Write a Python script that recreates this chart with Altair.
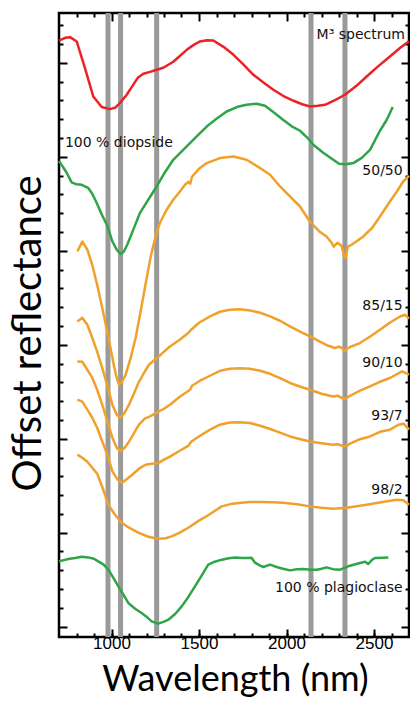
import altair as alt
import pandas as pd

# ---------------- data ----------------
m3_nm = [700,735,763,801,848,896,944,991,1020,1049,1087,1120,1150,1182,1220,1258,1296,1353,1430,1470,1506,1545,1582,1640,1697,1750,1811,1870,1925,1980,2040,2090,2134,2180,2220,2280,2334,2400,2458,2520,2591,2650,2700]
m3_refl = [6.237,6.266,6.273,6.227,5.947,5.641,5.529,5.507,5.521,5.574,5.660,5.755,5.840,5.883,5.904,5.926,5.947,6.011,6.138,6.191,6.227,6.239,6.237,6.170,6.085,5.989,5.872,5.787,5.713,5.649,5.596,5.559,5.535,5.543,5.553,5.606,5.660,5.755,5.854,5.957,6.067,6.160,6.229]

diop_nm = [700,744,772,800,830,866,890,915,945,976,1005,1030,1052,1070,1090,1128,1163,1210,1258,1300,1353,1430,1490,1544,1600,1658,1720,1772,1830,1877,1930,1980,2030,2077,2120,2153,2210,2267,2300,2340,2382,2430,2477,2534,2573,2607]
diop_refl = [4.957,4.830,4.727,4.707,4.702,4.670,4.606,4.511,4.383,4.266,4.099,4.011,3.965,3.989,4.064,4.241,4.404,4.543,4.684,4.819,4.968,5.110,5.223,5.322,5.404,5.482,5.532,5.553,5.564,5.543,5.468,5.394,5.324,5.277,5.202,5.128,5.043,4.968,4.926,4.920,4.933,4.989,5.074,5.277,5.394,5.529]

mix50_nm = [805,833,862,890,918,947,976,1005,1025,1043,1060,1081,1110,1138,1165,1195,1225,1253,1277,1315,1353,1390,1420,1440,1450,1460,1500,1544,1620,1696,1772,1849,1906,1963,2020,2077,2134,2190,2229,2258,2270,2290,2315,2330,2338,2350,2372,2439,2490,2534,2591,2630,2667,2700]
mix50_refl = [3.993,4.099,4.011,3.851,3.638,3.394,3.138,2.862,2.681,2.574,2.606,2.681,2.862,3.074,3.340,3.649,3.947,4.160,4.298,4.436,4.543,4.628,4.702,4.734,4.713,4.787,4.872,4.933,4.986,5.003,4.968,4.880,4.809,4.684,4.578,4.471,4.309,4.202,4.152,4.085,4.043,4.085,4.053,3.936,3.926,4.043,4.064,4.152,4.245,4.365,4.524,4.628,4.737,4.798]

mix85_nm = [805,833,862,890,918,947,976,1005,1030,1052,1075,1100,1130,1157,1190,1214,1240,1271,1300,1334,1390,1440,1455,1500,1563,1620,1677,1735,1791,1850,1906,1963,2020,2080,2134,2180,2230,2277,2300,2315,2334,2345,2363,2420,2480,2534,2590,2649,2677,2700]
mix85_refl = [3.248,3.287,3.213,3.074,2.926,2.755,2.564,2.362,2.255,2.223,2.277,2.362,2.489,2.606,2.713,2.787,2.830,2.876,2.926,2.982,3.053,3.128,3.160,3.234,3.301,3.351,3.372,3.378,3.365,3.340,3.301,3.255,3.195,3.138,3.088,3.043,2.995,2.965,2.979,2.968,2.929,2.957,2.976,3.018,3.090,3.160,3.234,3.301,3.319,3.277]

mix90_nm = [805,833,862,890,918,947,976,1005,1030,1052,1075,1100,1130,1157,1190,1220,1271,1300,1334,1390,1449,1460,1506,1563,1620,1677,1735,1791,1850,1906,1963,2020,2080,2134,2200,2265,2290,2310,2334,2345,2363,2420,2477,2534,2591,2660,2700]
mix90_refl = [2.822,2.819,2.734,2.649,2.521,2.362,2.191,2.011,1.904,1.865,1.904,1.968,2.064,2.149,2.213,2.237,2.290,2.319,2.362,2.447,2.521,2.564,2.617,2.670,2.723,2.745,2.750,2.745,2.723,2.691,2.644,2.593,2.553,2.521,2.479,2.450,2.457,2.441,2.422,2.436,2.457,2.511,2.556,2.606,2.646,2.716,2.681]

mix93_nm = [805,833,862,890,918,947,976,1005,1035,1061,1090,1118,1157,1195,1230,1271,1300,1334,1390,1440,1455,1506,1563,1620,1677,1735,1791,1850,1906,1963,2020,2080,2134,2200,2265,2290,2310,2334,2345,2363,2420,2477,2534,2591,2640,2670,2700]
mix93_refl = [2.415,2.394,2.309,2.223,2.117,1.971,1.830,1.652,1.564,1.532,1.574,1.617,1.681,1.723,1.734,1.745,1.777,1.809,1.872,1.926,1.968,2.032,2.096,2.149,2.173,2.176,2.167,2.138,2.103,2.064,2.024,1.995,1.971,1.952,1.936,1.941,1.931,1.918,1.926,1.947,1.995,2.024,2.074,2.096,2.149,2.160,2.096]

mix98_nm = [805,833,862,890,918,947,982,1020,1058,1100,1153,1210,1267,1310,1344,1390,1439,1500,1557,1630,1690,1744,1791,1850,1920,1981,2060,2134,2200,2265,2344,2400,2458,2540,2630,2667,2700]
mix98_refl = [1.830,1.798,1.755,1.691,1.628,1.489,1.298,1.191,1.106,1.053,1.000,0.957,0.936,0.941,0.961,1.000,1.053,1.128,1.191,1.280,1.309,1.319,1.327,1.327,1.324,1.319,1.303,1.280,1.266,1.255,1.266,1.282,1.298,1.324,1.351,1.344,1.298]

plag_nm = [700,753,791,830,867,900,924,955,982,1010,1039,1068,1096,1135,1172,1200,1229,1267,1300,1325,1365,1401,1440,1477,1515,1553,1590,1630,1670,1706,1745,1782,1800,1820,1850,1868,1906,1944,1980,2020,2060,2096,2140,2172,2200,2229,2265,2306,2335,2363,2420,2450,2467,2490,2506,2550,2582]
plag_refl = [0.695,0.720,0.731,0.745,0.737,0.723,0.695,0.660,0.606,0.521,0.429,0.340,0.252,0.191,0.146,0.106,0.056,0.032,0.053,0.074,0.138,0.216,0.319,0.429,0.543,0.660,0.691,0.713,0.729,0.737,0.731,0.731,0.734,0.681,0.649,0.635,0.660,0.635,0.617,0.599,0.612,0.614,0.606,0.606,0.617,0.631,0.612,0.606,0.628,0.649,0.678,0.691,0.667,0.713,0.731,0.734,0.737]

band_nm = [980, 1052, 1258, 2140, 2334]

series_names = ["M3", "diopside", "50/50", "85/15", "90/10", "93/7", "98/2", "plagioclase"]
series_colors = ["#EC2227", "#2EA548", "#F0A12B", "#F0A12B", "#F0A12B", "#F0A12B", "#F0A12B", "#2EA548"]
series_data = [(m3_nm, m3_refl), (diop_nm, diop_refl), (mix50_nm, mix50_refl), (mix85_nm, mix85_refl),
               (mix90_nm, mix90_refl), (mix93_nm, mix93_refl), (mix98_nm, mix98_refl), (plag_nm, plag_refl)]

right_labels = ["M\u00b3 spectrum", "50/50", "85/15", "90/10", "93/7", "98/2", "100 % plagioclase"]
right_label_nm = [2677, 2664, 2664, 2664, 2664, 2664, 2664]
right_label_refl = [6.298, 4.844, 3.415, 2.805, 2.245, 1.450, 0.412]
left_labels = ["100 % diopside"]
left_label_nm = [734]
left_label_refl = [5.146]

x_major = [1000, 1500, 2000, 2500]
x_minor = list(range(800, 2700, 100))
y_ticks = [round(0.2 * k, 1) for k in range(33)]

# ---------------- tables ----------------
rows = []
for name, (xv, yv) in zip(series_names, series_data):
    assert len(xv) == len(yv), name
    for a, b in zip(xv, yv):
        rows.append({"series": name, "nm": a, "refl": b})
curves = pd.DataFrame(rows)
bands = pd.DataFrame({"nm": band_nm})
rlab = pd.DataFrame({"label": right_labels, "nm": right_label_nm, "refl": right_label_refl})
llab = pd.DataFrame({"label": left_labels, "nm": left_label_nm, "refl": left_label_refl})

xs = alt.Scale(domain=[700, 2700], nice=False, zero=False)
ys = alt.Scale(domain=[-0.11, 6.53], nice=False, zero=False)

x_tick = {"expr": "datum.value % 500 === 0 ? -8 : -4"}
y_tick = {"expr": "abs(datum.value - round(datum.value)) < 0.01 ? -8 : -4"}

common = dict(domain=False, grid=False, tickColor="black", tickWidth=2)

x_bottom = alt.Axis(orient="bottom", values=x_major, tickSize={"expr": "-8"}, format="d",
                    labelFont="Liberation Sans", labelFontSize=17, labelColor="black",
                    labelPadding=6, labelOverlap=False, labelFlush=False,
                    title="Wavelength (nm)", titleFont="Lato", titleFontSize=36,
                    titleFontWeight="normal", titleColor="black", titleX=176, titleY=53,
                    titleAlign="center", titleBaseline="alphabetic", **common)
x_bottom_minor = alt.Axis(orient="bottom", values=x_minor, tickSize={"expr": "-4"},
                          labels=False, title=None, **common)
y_left = alt.Axis(orient="left", values=y_ticks, tickSize=y_tick, labels=False,
                  title="Offset reflectance", titleFont="Lato", titleFontSize=40,
                  titleFontWeight="normal", titleColor="black", titleAngle=270,
                  titleX=-19, titleY=320, titleAlign="center", titleBaseline="alphabetic", **common)
x_top = alt.Axis(orient="top", values=x_minor, tickSize=x_tick, labels=False, title=None, **common)
y_right = alt.Axis(orient="right", values=y_ticks, tickSize=y_tick, labels=False, title=None, **common)

rules = alt.Chart(bands).mark_rule(color="#9a9a9a", strokeWidth=5).encode(
    x=alt.X("nm:Q", scale=xs, axis=x_bottom_minor)
)

color = alt.Color("series:N", scale=alt.Scale(domain=series_names, range=series_colors), legend=None)

lines = alt.Chart(curves).mark_line(strokeWidth=2.5, strokeJoin="round").encode(
    x=alt.X("nm:Q", scale=xs, axis=x_bottom),
    y=alt.Y("refl:Q", scale=ys, axis=y_left),
    color=color,
    detail="series:N",
)

ghost = alt.Chart(curves).mark_point(opacity=0).encode(
    x=alt.X("nm:Q", scale=xs, axis=x_top),
    y=alt.Y("refl:Q", scale=ys, axis=y_right),
)

text_r = alt.Chart(rlab).mark_text(align="right", baseline="middle", font="DejaVu Sans",
                                   fontSize=14, color="#111111").encode(
    x=alt.X("nm:Q", scale=xs, axis=None),
    y=alt.Y("refl:Q", scale=ys, axis=None),
    text="label:N",
)
text_l = alt.Chart(llab).mark_text(align="left", baseline="middle", font="DejaVu Sans",
                                   fontSize=14, color="#111111").encode(
    x=alt.X("nm:Q", scale=xs, axis=None),
    y=alt.Y("refl:Q", scale=ys, axis=None),
    text="label:N",
)

chart = alt.layer(rules, lines, ghost, text_r, text_l).resolve_axis(
    x="independent", y="independent"
).properties(
    width=350, height=624,
    autosize=alt.AutoSizeParams(type="none"),
    padding={"left": 59, "top": 13, "right": 1, "bottom": 74},
    background="white",
).configure_view(stroke="black", strokeWidth=2.5)

chart.save("out.html", embed_options={"renderer": "svg", "actions": False})
